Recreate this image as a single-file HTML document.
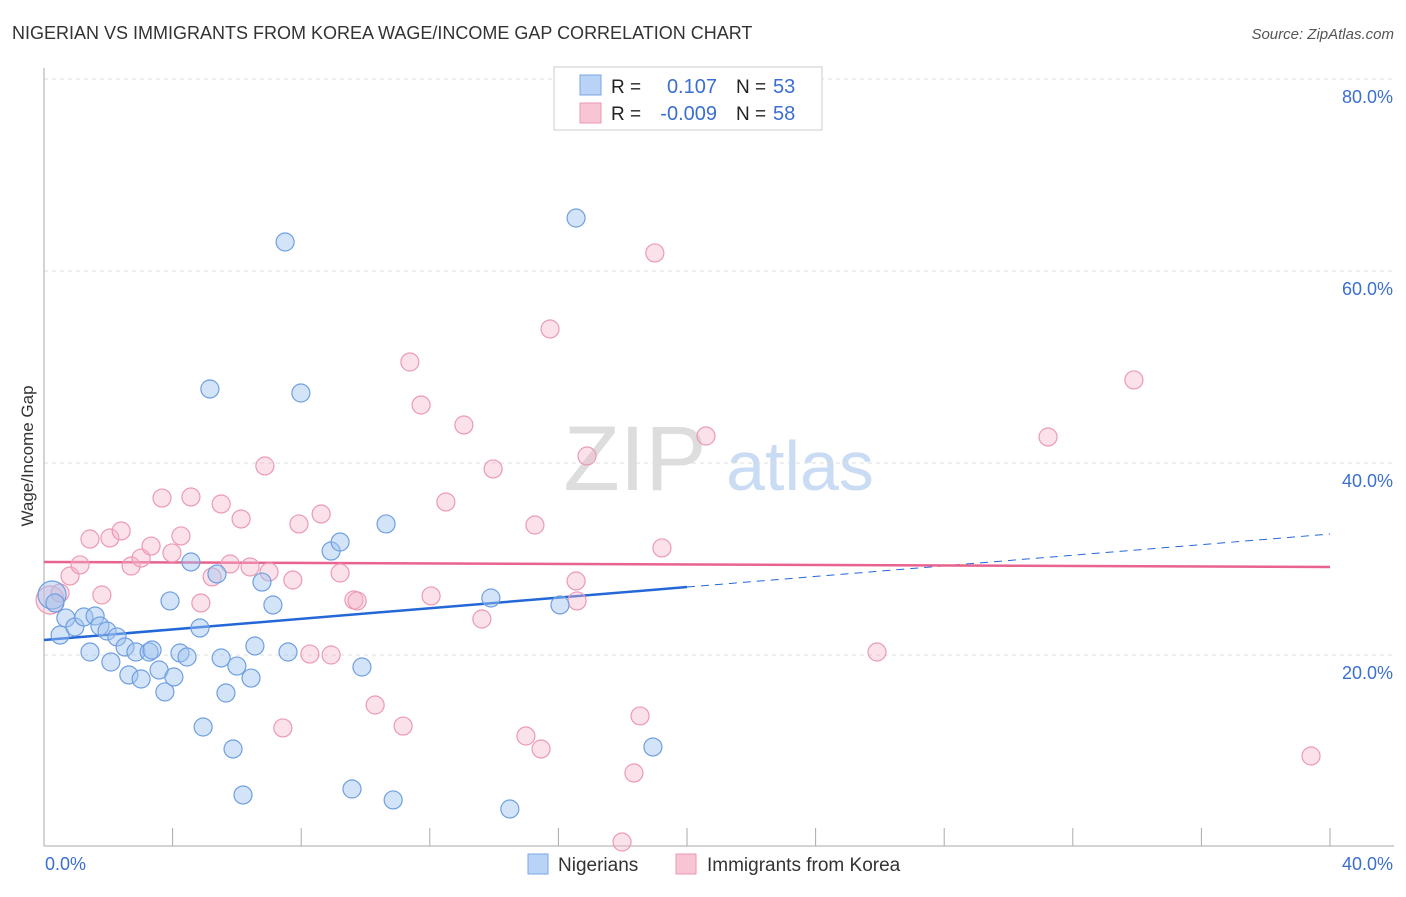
<!DOCTYPE html>
<html><head><meta charset="utf-8"><style>
body{margin:0;background:#fff;font-family:"Liberation Sans",sans-serif;}
svg text{font-family:"Liberation Sans",sans-serif;}
</style></head><body>
<svg id="chart" width="1406" height="892" viewBox="0 0 1406 892">
<text x="12" y="39" font-size="18" fill="#333">NIGERIAN VS IMMIGRANTS FROM KOREA WAGE/INCOME GAP CORRELATION CHART</text>
<text x="1394" y="39" font-size="15" fill="#555" font-style="italic" text-anchor="end">Source: ZipAtlas.com</text>
<text x="33" y="456" font-size="17" fill="#333" text-anchor="middle" transform="rotate(-90 33 456)">Wage/Income Gap</text>
<g><text x="635" y="490" font-size="92" fill="#ddd" font-family="Liberation Serif" text-anchor="middle">ZIP</text><text x="800" y="490" font-size="70" fill="#c9dcf3" text-anchor="middle">atlas</text></g>
<g id="grid"></g><g id="ticks"></g><g id="trends"></g><g id="pts"></g>
<g>
<rect x="554" y="67" width="268" height="63" fill="#fff" stroke="#ccc"/>
<rect x="580" y="75" width="21" height="20" fill="#b9d3f6" stroke="#7aa6e6"/>
<rect x="580" y="103" width="21" height="20" fill="#f8c5d5" stroke="#ec97b2"/>
<text x="611" y="93" font-size="19" fill="#222">R =</text><text x="717" y="93" font-size="20" fill="#3a6fd0" text-anchor="end">0.107</text>
<text x="736" y="93" font-size="19" fill="#222">N =</text><text x="773" y="93" font-size="20" fill="#3a6fd0">53</text>
<text x="611" y="120" font-size="19" fill="#222">R =</text><text x="717" y="120" font-size="20" fill="#3a6fd0" text-anchor="end">-0.009</text>
<text x="736" y="120" font-size="19" fill="#222">N =</text><text x="773" y="120" font-size="20" fill="#3a6fd0">58</text>
</g>
<g>
<rect x="528" y="854" width="20" height="20" fill="#b9d3f6" stroke="#7aa6e6"/>
<text x="558" y="871" font-size="19" fill="#333">Nigerians</text>
<rect x="676" y="854" width="20" height="20" fill="#f8c5d5" stroke="#ec97b2"/>
<text x="707" y="871" font-size="19" fill="#333">Immigrants from Korea</text>
</g>
</svg>
<script>
const blueX=[0.25,0.34,0.5,0.68,0.96,1.24,1.59,1.43,1.74,1.96,2.08,2.27,2.52,2.64,2.86,3.02,3.27,3.36,3.58,3.76,3.92,4.04,4.23,4.45,4.57,4.85,4.95,5.16,5.38,5.51,5.66,5.88,6.0,6.19,6.44,6.56,6.78,7.12,7.5,7.59,7.99,8.93,9.21,9.58,9.89,10.64,10.86,13.9,14.49,16.05,16.55,18.94];
const blueY=[26.25,25.42,22.08,23.85,22.92,23.96,24.06,20.31,23.02,22.5,19.27,21.88,20.83,17.92,20.31,17.5,20.31,20.52,18.44,16.15,25.63,17.71,20.21,19.79,29.69,22.81,12.5,47.71,28.44,19.69,16.04,10.21,18.85,5.42,17.6,20.94,27.6,25.21,63.02,20.31,47.29,30.83,31.77,6.04,18.75,33.65,4.9,25.94,3.96,25.21,65.52,10.42];
const pinkX=[0.19,0.5,0.81,1.12,1.43,1.8,2.05,2.4,2.71,3.02,3.33,3.67,3.98,4.26,4.57,4.88,5.23,5.51,5.79,6.13,6.41,6.87,7.0,7.43,7.74,7.93,8.27,8.62,8.93,9.21,9.64,9.74,10.3,11.17,11.38,11.73,12.04,13.06,12.5,13.62,13.97,14.99,15.27,15.46,15.74,16.55,16.58,16.89,17.98,18.35,18.54,19.0,19.22,20.59,25.91,31.23,33.9,39.41];
const pinkY=[25.73,26.46,28.23,29.38,32.08,26.25,32.19,32.92,29.27,30.1,31.35,36.35,30.63,32.4,36.46,25.42,28.13,35.73,29.48,34.17,29.17,39.69,28.65,12.4,27.81,33.65,20.1,34.69,20.0,28.54,25.73,25.63,14.79,12.6,50.52,46.04,26.15,43.96,35.94,23.75,39.38,11.56,33.54,10.21,53.96,27.71,25.63,40.73,0.52,7.71,13.65,61.88,31.15,42.81,20.31,42.71,48.65,9.48];
const blueTrend=[21.56,27.08,32.6]; // y at x=0,20,40
const pinkTrend=[29.69,29.17]; // y at x=0,40
const yTicks=[20,40,60,80];
const yTickLabels=["20.0%","40.0%","60.0%","80.0%"];
const xTicks=[0,4,8,12,16,20,24,28,32,36,40];
const NS="http://www.w3.org/2000/svg";
const sx=v=>44+v*32.15, sy=v=>847-v*9.6;
function mk(t,a,p){const e=document.createElementNS(NS,t);for(const k in a)e.setAttribute(k,a[k]);p.appendChild(e);return e;}
const grid=document.getElementById('grid'),ticks=document.getElementById('ticks'),tr=document.getElementById('trends'),pts=document.getElementById('pts');
yTicks.forEach((v,i)=>{
 const l=mk('line',{x1:44,x2:1394,y1:sy(v),y2:sy(v),stroke:'#ddd','stroke-dasharray':'4,4'},grid);
 
 
 const t=mk('text',{x:1393,y:sy(v)+24,'font-size':18,fill:'#3a6fd0','text-anchor':'end'},grid);t.textContent=yTickLabels[i];
 
 
});
const ax=mk('line',{x1:44,x2:44,y1:68,y2:846,stroke:'#aaa'},ticks);


const bx=mk('line',{x1:44,x2:1394,y1:846,y2:846,stroke:'#aaa'},ticks);


xTicks.forEach(v=>{const l=mk('line',{x1:sx(v),x2:sx(v),y1:828,y2:846,stroke:'#aaa'},ticks);
 
 });
const x0=mk('text',{x:45,y:870,'font-size':18,fill:'#3a6fd0'},ticks);x0.textContent='0.0%';


const x1=mk('text',{x:1393,y:870,'font-size':18,fill:'#3a6fd0','text-anchor':'end'},ticks);x1.textContent='40.0%';


function dot(x,y,big,blue){const c=mk('circle',{cx:sx(x),cy:sy(y),r:big?14:9,fill:blue?'rgba(160,196,240,0.45)':'rgba(246,180,200,0.4)',stroke:blue?'#6f9fe0':'#ec9ab4','stroke-width':1.2},pts);return c;}
pinkX.forEach((x,i)=>{const c=dot(x,pinkY[i],i===0,false);
 
 });
blueX.forEach((x,i)=>{const c=dot(x,blueY[i],i===0,true);
 
 });
const b1=mk('line',{x1:sx(0),y1:sy(blueTrend[0]),x2:sx(20),y2:sy(blueTrend[1]),stroke:'#2468d8','stroke-width':2.5},tr);


const b2=mk('line',{x1:sx(20),y1:sy(blueTrend[1]),x2:sx(40),y2:sy(blueTrend[2]),stroke:'#2468d8','stroke-width':1,'stroke-dasharray':'8,6'},tr);


const p1=mk('line',{x1:sx(0),y1:sy(pinkTrend[0]),x2:sx(40),y2:sy(pinkTrend[1]),stroke:'#e8638f','stroke-width':2.5},tr);


</script>
</body></html>
